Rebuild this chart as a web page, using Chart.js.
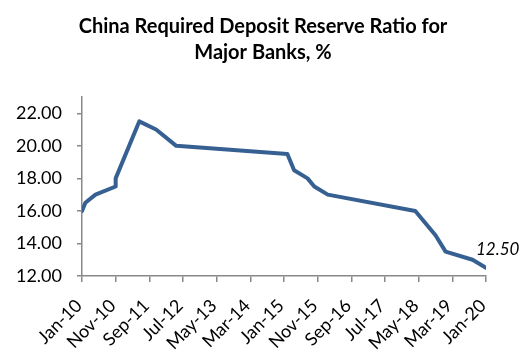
<!DOCTYPE html>
<html>
<head>
<meta charset="utf-8">
<script src="https://cdn.jsdelivr.net/npm/chart.js@4.4.1/dist/chart.umd.min.js"></script>
<style>
  html, body { margin: 0; padding: 0; background: #fff; }
  #wrap { width: 526px; height: 354px; }
</style>
</head>
<body>
<div id="wrap"><canvas id="c" width="526" height="354"></canvas></div>
<script>
// ---- Data ----
const chartTitle = ['China Required Deposit Reserve Ratio for', 'Major Banks, %'];
const changeMonths = ['2010-01','2010-02','2010-05','2010-11','2010-11','2011-06','2011-11','2012-05',
                      '2015-02','2015-04','2015-08','2015-10','2016-02','2018-04','2018-10','2019-01',
                      '2019-09','2020-01'];
const ratioValues = [16.0,16.5,17.0,17.5,18.0,21.5,21.0,20.0,
                     19.5,18.5,18.0,17.5,17.0,16.0,14.5,13.5,
                     13.0,12.5];
const monthNames = ['Jan','Feb','Mar','Apr','May','Jun','Jul','Aug','Sep','Oct','Nov','Dec'];
const yTickValues = [12, 14, 16, 18, 20, 22];
const lastLabel = '12.50';

// month index since Jan 2010
function monthIndex(s) {
  const [y, m] = s.split('-').map(Number);
  return (y - 2010) * 12 + (m - 1);
}
function monthLabel(i) {
  const y = 2010 + Math.floor(i / 12);
  const m = ((i % 12) + 12) % 12;
  return monthNames[m] + '-' + String(y % 100).padStart(2, '0');
}

const points = changeMonths.map((d, i) => ({ x: monthIndex(d), y: ratioValues[i] }));

const axisColor = '#888888';

const titlePlugin = {
  id: 'centerTitle',
  afterDraw(chart) {
    const ctx = chart.ctx;
    ctx.save();
    ctx.font = 'bold 20px Lato';
    ctx.fillStyle = '#000';
    ctx.textAlign = 'center';
    ctx.textBaseline = 'middle';
    chartTitle.forEach((line, i) => ctx.fillText(line, chart.width / 2, 27 + i * 26));
    ctx.restore();
  }
};

const lastLabelPlugin = {
  id: 'lastLabel',
  afterDatasetsDraw(chart) {
    const meta = chart.getDatasetMeta(0);
    const pt = meta.data[meta.data.length - 1];
    const ctx = chart.ctx;
    ctx.save();
    ctx.font = 'italic 17px Lato';
    ctx.fillStyle = '#000';
    ctx.textAlign = 'left';
    ctx.textBaseline = 'middle';
    ctx.fillText(lastLabel, pt.x - 10, pt.y - 18);
    ctx.restore();
  }
};

new Chart(document.getElementById('c'), {
  type: 'line',
  data: {
    datasets: [{
      data: points,
      borderColor: '#366092',
      borderWidth: 4,
      pointRadius: 0,
      tension: 0,
      borderJoinStyle: 'round',
      borderCapStyle: 'round',
      fill: false
    }]
  },
  options: {
    responsive: false,
    animation: false,
    layout: { padding: { left: 0, right: 40, top: 97, bottom: 0 } },
    plugins: {
      legend: { display: false },
      tooltip: { enabled: false },
      title: { display: false }
    },
    scales: {
      x: {
        type: 'linear',
        min: 0,
        max: 120,
        afterBuildTicks(scale) {
          const t = [];
          for (let v = 0; v <= 120; v += 10) t.push({ value: v });
          scale.ticks = t;
        },
        afterFit(scale) { scale.height = 78; },
        ticks: {
          autoSkip: false,
          maxRotation: 45,
          minRotation: 45,
          padding: 13,
          labelOffset: -3,
          color: '#000',
          font: { family: 'Lato', size: 18 },
          callback: (v) => monthLabel(v)
        },
        grid: { display: true, drawOnChartArea: false, drawTicks: true, tickLength: 6, color: axisColor, lineWidth: 1.5 },
        border: { display: true, color: axisColor, width: 1.5 }
      },
      y: {
        type: 'linear',
        min: 12,
        max: 23,
        afterBuildTicks(scale) {
          scale.ticks = yTickValues.map(v => ({ value: v }));
        },
        afterFit(scale) { scale.width = 82; },
        ticks: {
          padding: 15,
          color: '#000',
          font: { family: 'Lato', size: 18 },
          callback: (v) => Number(v).toFixed(2)
        },
        grid: { display: true, drawOnChartArea: false, drawTicks: true, tickLength: 5, color: axisColor, lineWidth: 1.5 },
        border: { display: true, color: axisColor, width: 1.5 }
      }
    }
  },
  plugins: [lastLabelPlugin, titlePlugin]
});
</script>
</body>
</html>
